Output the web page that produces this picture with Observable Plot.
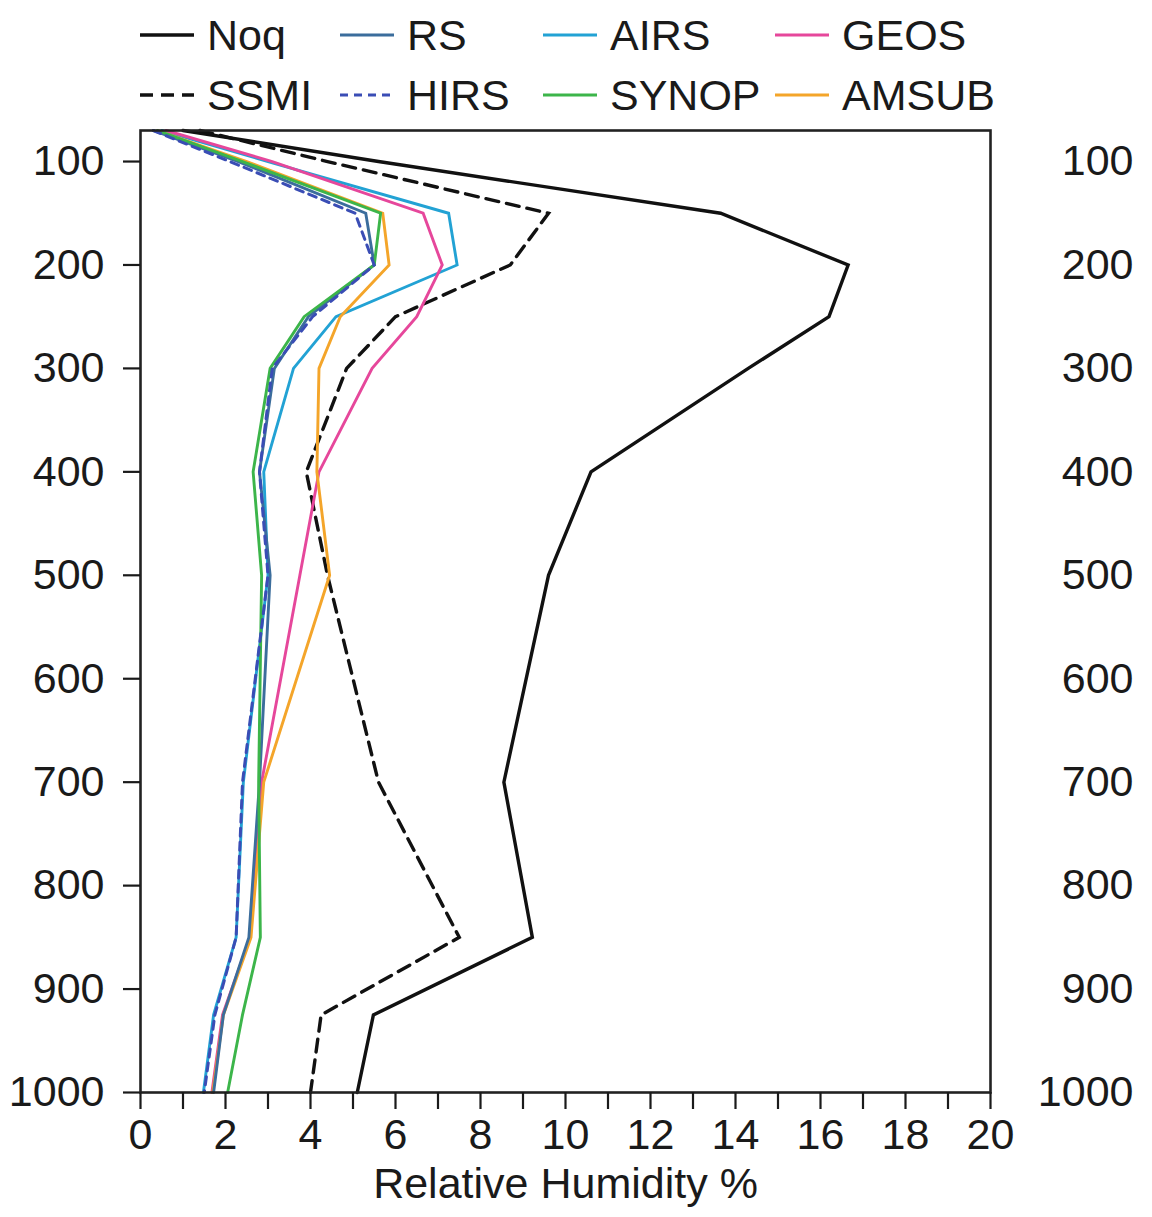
<!DOCTYPE html>
<html><head><meta charset="utf-8">
<script src="https://cdn.jsdelivr.net/npm/d3@7"></script>
<script src="https://cdn.jsdelivr.net/npm/@observablehq/plot@0.6"></script>
<style>
body{margin:0;background:#fff;font-family:"Liberation Sans",Arial,sans-serif;}
#legend{position:relative;height:120px;width:1152px;}
.item{position:absolute;display:flex;align-items:center;font-size:43px;color:#1a1a1a;height:60px;}
.item svg{margin-right:13px;}
</style></head><body>
<div id="legend"></div><div id="chart"></div>
<script>
const pressure = [70, 100, 150, 200, 250, 300, 400, 500, 700, 850, 925, 1000];
const noq   = [1.0, 5.6, 13.65, 16.65, 16.2, 14.3, 10.6, 9.6, 8.55, 9.22, 5.48, 5.1];
const ssmi  = [1.4, 4.4, 9.6, 8.7, 6.0, 4.85, 3.9, 4.4, 5.6, 7.5, 4.25, 4.0];
const rs    = [0.3, 2.3, 5.3, 5.5, 3.95, 3.15, 2.8, 3.05, 2.8, 2.55, 1.95, 1.72];
const hirs  = [0.3, 2.1, 5.05, 5.5, 4.05, 3.1, 2.8, 3.0, 2.4, 2.25, 1.75, 1.5];
const airs  = [0.5, 3.0, 7.25, 7.45, 4.6, 3.6, 2.9, 3.0, 2.42, 2.25, 1.72, 1.48];
const synop = [0.4, 2.4, 5.65, 5.5, 3.85, 3.05, 2.65, 2.85, 2.78, 2.82, 2.4, 2.05];
const geos  = [0.6, 3.1, 6.65, 7.1, 6.5, 5.45, 4.2, 3.75, 2.85, 2.58, 1.93, 1.68];
const amsub = [0.4, 2.5, 5.7, 5.85, 4.7, 4.2, 4.15, 4.45, 2.9, 2.6, 1.95, 1.7];
const xTicks = d3.range(0, 21, 1);
const yTicks = [100, 200, 300, 400, 500, 600, 700, 800, 900, 1000];
const seriesNames = ["Noq", "RS", "AIRS", "GEOS", "SSMI", "HIRS", "SYNOP", "AMSUB"];

const series = [
  {name: "Noq",   values: noq,   color: "#111111", dash: null,   width: 3.4},
  {name: "SSMI",  values: ssmi,  color: "#111111", dash: "13,8", width: 3.4},
  {name: "AIRS",  values: airs,  color: "#22a2d4", dash: null,   width: 2.9},
  {name: "GEOS",  values: geos,  color: "#e6479b", dash: null,   width: 2.9},
  {name: "AMSUB", values: amsub, color: "#f4a52a", dash: null,   width: 2.9},
  {name: "RS",    values: rs,    color: "#3b6d9c", dash: null,   width: 2.9},
  {name: "SYNOP", values: synop, color: "#3cb54a", dash: null,   width: 2.9},
  {name: "HIRS",  values: hirs,  color: "#3a4db5", dash: "8,6",  width: 3.0}
];
const data = series.flatMap(s => s.values.map((v, i) => ({series: s.name, rh: v, p: pressure[i]})));

// legend
const legendPos = {
  Noq: [140, 5], RS: [340, 5], AIRS: [543, 5], GEOS: [775, 5],
  SSMI: [140, 65], HIRS: [340, 65], SYNOP: [543, 65], AMSUB: [775, 65]
};
const legend = document.getElementById("legend");
for (const name of seriesNames) {
  const s = series.find(d => d.name === name);
  const div = document.createElement("div");
  div.className = "item";
  div.style.left = legendPos[name][0] + "px";
  div.style.top = legendPos[name][1] + "px";
  div.innerHTML = `<svg width="54" height="10"><line x1="0" y1="5" x2="54" y2="5" stroke="${s.color}" stroke-width="${s.width}" ${s.dash ? `stroke-dasharray="${s.dash}"` : ""}/></svg><span>${name}</span>`;
  legend.appendChild(div);
}

const chart = Plot.plot({
  width: 1152, height: 1097,
  marginLeft: 140, marginRight: 162, marginTop: 10, marginBottom: 125,
  x: {domain: [0, 20], label: null},
  y: {domain: [70, 1000], reverse: true, label: null},
  style: {fontFamily: '"Liberation Sans",Arial,sans-serif', fontSize: "43px", color: "#1a1a1a", background: "#fff"},
  marks: [
    ...series.map(s => Plot.line(data.filter(d => d.series === s.name), {
      x: "rh", y: "p", stroke: s.color, strokeWidth: s.width,
      strokeDasharray: s.dash ?? undefined, strokeLinejoin: "miter", strokeMiterlimit: 4
    })),
    Plot.frame({stroke: "#222", strokeWidth: 2.6}),
    Plot.axisX({ticks: xTicks, tickSize: 17, tickPadding: 9, strokeWidth: 2.2,
      tickFormat: d => d % 2 === 0 ? String(d) : ""}),
    Plot.axisY({ticks: yTicks, tickSize: 17, tickPadding: 19, strokeWidth: 2.2, tickFormat: d => String(d)}),
    Plot.axisY({anchor: "right", ticks: yTicks, tickSize: 0, tickPadding: 0, textAnchor: "end", dx: 143, tickFormat: d => String(d)}),
    Plot.text(["Relative Humidity %"], {frameAnchor: "bottom", dy: 105, fontSize: 43})
  ]
});
document.getElementById("chart").appendChild(chart);
</script>
</body></html>
